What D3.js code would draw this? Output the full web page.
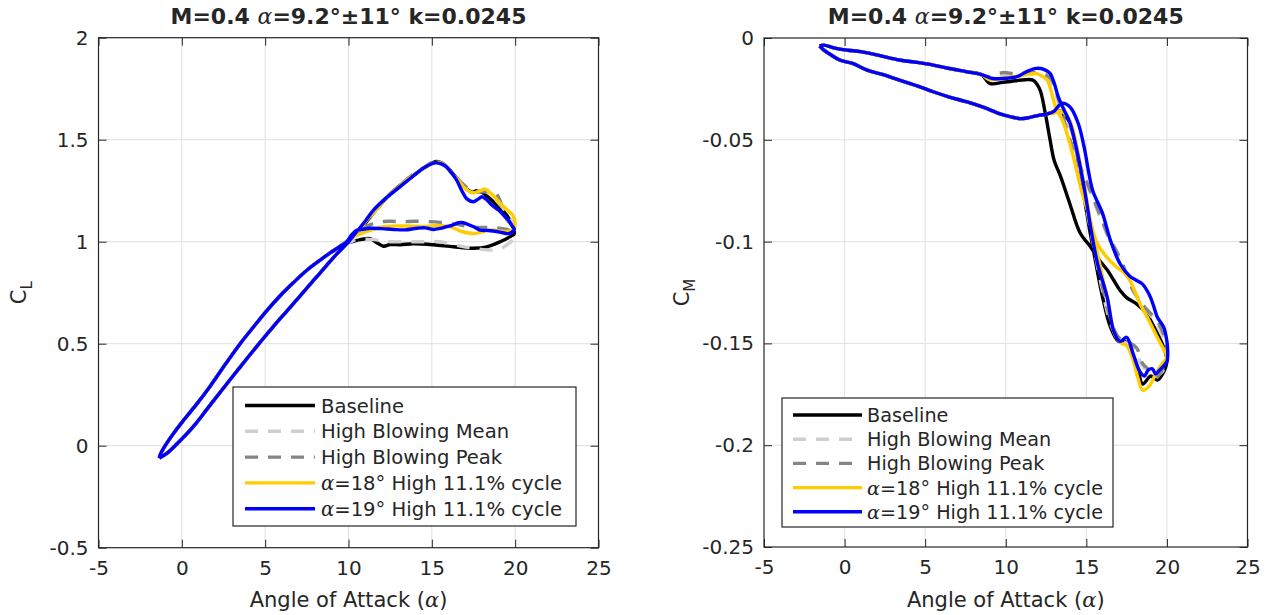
<!DOCTYPE html>
<html>
<head>
<meta charset="utf-8">
<script src="https://cdn.jsdelivr.net/npm/d3@7"></script>
<style>
  body { margin: 0; background: #fff; }
  svg { display: block; }
  text { font-family: "DejaVu Sans", sans-serif; fill: #262626; }
</style>
</head>
<body>
<svg id="fig" width="1266" height="615"></svg>
<script>
// ---- tick values ----
const alphaTicks = [-5, 0, 5, 10, 15, 20, 25];
const clTicks = [-0.5, 0, 0.5, 1, 1.5, 2];
const cmTicks = [-0.25, -0.2, -0.15, -0.1, -0.05, 0];

const titleParts = ["M=0.4 ", "α", "=9.2°±11° k=0.0245"];
const xLabelParts = ["Angle of Attack (", "α", ")"];

const seriesNames = ["Baseline", "High Blowing Mean", "High Blowing Peak",
                     "α=18° High 11.1% cycle", "α=19° High 11.1% cycle"];

// ---- lift coefficient, [alpha, CL] ----
// attached-flow part of the cycle shared by every case
const clAttachedUp = [[-1.35,-0.06],[-0.9,-0.038],[-0.3,0.008],[0.7,0.095],[1.5,0.178],[2.3,0.262],
  [3.2,0.355],[4.1,0.447],[4.8,0.517],[5.5,0.585],[6.3,0.66],[7.1,0.735],[7.9,0.81],[8.7,0.885],
  [9.3,0.94],[9.9,0.99]];
const clAttachedDown = [[9.9,1.0],[9.4,0.972],[8.9,0.945],[8.3,0.91],[7.5,0.86],[6.7,0.80],[5.9,0.735],
  [5.1,0.662],[4.3,0.582],[3.5,0.50],[2.6,0.398],[1.7,0.292],[0.9,0.205],[0.1,0.124],[-0.5,0.06],
  [-1.0,0.0],[-1.3,-0.045],[-1.35,-0.06]];

// stall part, upstroke to max alpha then back down to 10 deg
const clBaselineStall = [[10.2,1.02],[10.7,1.06],[11.2,1.11],[11.8,1.17],[12.4,1.225],[13.0,1.27],[13.5,1.30],
  [14.0,1.33],[14.5,1.36],[15.0,1.385],[15.3,1.393],[15.7,1.38],[16.1,1.35],[16.5,1.31],[17.0,1.265],
  [17.4,1.243],[17.7,1.25],[18.0,1.243],[18.5,1.21],[19.0,1.17],[19.5,1.13],[19.85,1.075],[19.95,1.04],
  [19.7,1.025],[19.1,1.0],[18.3,0.975],[17.5,0.968],[16.3,0.975],[15.1,0.985],[13.9,0.99],[13.1,0.985],
  [12.5,0.986],[12.1,0.978],[11.7,0.995],[11.3,1.015],[10.7,1.01],[10.2,1.0]];
const clMeanStall = [[10.2,1.02],[10.7,1.06],[11.2,1.11],[11.8,1.17],[12.4,1.225],[13.0,1.27],[14.0,1.335],
  [14.6,1.365],[15.1,1.388],[15.4,1.39],[15.8,1.37],[16.2,1.33],[16.7,1.29],[17.2,1.255],[17.6,1.245],
  [18.0,1.25],[18.5,1.235],[19.0,1.19],[19.5,1.14],[19.9,1.08],[19.95,1.02],[19.6,0.99],[19.0,0.962],
  [18.3,0.96],[17.5,0.968],[16.8,0.977],[15.5,1.0],[14.5,1.0],[13.5,1.0],[12.5,1.0],[11.5,1.01],
  [10.5,1.01],[10.1,1.0]];
const clPeakStall = [[10.2,1.02],[10.7,1.062],[11.2,1.112],[11.8,1.172],[12.4,1.228],[13.0,1.272],[14.0,1.338],
  [14.6,1.368],[15.1,1.392],[15.4,1.396],[15.8,1.376],[16.2,1.34],[16.7,1.295],[17.2,1.26],[17.6,1.245],
  [18.1,1.245],[18.7,1.25],[19.1,1.2],[19.4,1.12],[19.8,1.08],[19.95,1.05],[19.5,1.06],[18.5,1.07],
  [17.5,1.07],[16.5,1.085],[15.5,1.095],[14.1,1.10],[13.2,1.098],[12.4,1.10],[11.5,1.09],[10.8,1.06],
  [10.2,1.02]];
const clAlpha18Stall = [[10.2,1.025],[10.7,1.065],[11.2,1.115],[11.8,1.17],[12.4,1.225],[13.0,1.268],
  [14.0,1.332],[14.6,1.362],[15.1,1.385],[15.4,1.39],[15.8,1.372],[16.2,1.335],[16.6,1.30],[17.0,1.26],
  [17.5,1.24],[17.9,1.25],[18.2,1.258],[18.6,1.232],[19.2,1.18],[19.6,1.15],[19.85,1.13],[20.0,1.09],
  [19.9,1.06],[19.5,1.05],[18.5,1.057],[17.5,1.04],[16.8,1.05],[16.2,1.07],[15.5,1.08],[14.5,1.075],
  [13.5,1.077],[12.1,1.074],[11.1,1.05],[10.3,1.025]];
const clAlpha19Stall = [[10.2,1.02],[10.5,1.05],[11.0,1.10],[11.5,1.155],[12.2,1.21],[13.1,1.27],[13.7,1.31],
  [14.3,1.35],[14.8,1.375],[15.2,1.387],[15.6,1.38],[15.9,1.365],[16.2,1.335],[16.5,1.30],[16.8,1.25],
  [17.1,1.21],[17.5,1.196],[17.8,1.21],[18.0,1.22],[18.3,1.205],[18.6,1.18],[19.0,1.155],[19.3,1.13],
  [19.6,1.105],[19.8,1.08],[19.95,1.06],[19.6,1.04],[19.2,1.045],[18.9,1.05],[18.4,1.055],[17.9,1.057],
  [17.6,1.07],[17.3,1.08],[16.9,1.093],[16.6,1.093],[16.2,1.08],[15.9,1.074],[15.5,1.065],[15.1,1.06],
  [14.6,1.068],[14.1,1.066],[13.4,1.058],[12.7,1.06],[12.0,1.064],[11.3,1.066],[10.8,1.06],[10.5,1.057],
  [10.2,1.035]];

// ---- pitching moment coefficient, [alpha, CM] ----
const cmUpperBranch = [[-1.55,-0.004],[-1.3,-0.0035],[-0.6,-0.005],[0.2,-0.006],[1.0,-0.0067],[2.2,-0.0087],
  [3.4,-0.0108],[4.5,-0.012],[5.5,-0.0133],[6.5,-0.015],[7.6,-0.0166],[8.5,-0.018]];
const cmLowerBranch = [[12.5,-0.0375],[12.1,-0.0379],[11.5,-0.039],[10.9,-0.0396],[10.2,-0.0385],
  [9.6,-0.0371],[8.6,-0.034],[7.6,-0.0314],[6.5,-0.029],[5.5,-0.0264],[4.5,-0.0235],[3.4,-0.0207],
  [2.4,-0.018],[1.4,-0.0158],[0.5,-0.0125],[-0.3,-0.0108],[-0.9,-0.008],[-1.3,-0.0058],[-1.55,-0.004]];

const cmBaselineStall = [[9.0,-0.0223],[9.8,-0.0218],[10.6,-0.021],[11.2,-0.0205],[11.7,-0.0207],[12.1,-0.025],
  [12.43,-0.036],[12.75,-0.05],[13.0,-0.06],[13.4,-0.068],[14.0,-0.082],[14.6,-0.0955],[15.3,-0.103],
  [15.7,-0.108],[16.3,-0.114],[16.7,-0.119],[17.1,-0.124],[17.5,-0.1275],[18.1,-0.1305],[18.7,-0.135],
  [19.2,-0.142],[19.7,-0.150],[20.0,-0.158],[19.8,-0.164],[19.4,-0.168],[19.0,-0.166],[18.5,-0.170],
  [18.2,-0.163],[17.9,-0.156],[17.4,-0.149],[17.0,-0.149],[16.5,-0.142],[16.0,-0.127],[15.6,-0.111],
  [15.2,-0.094],[14.8,-0.075],[14.4,-0.056],[14.0,-0.042],[13.5,-0.037],[12.9,-0.0365]];
const cmMeanStall = [[9.0,-0.0195],[9.8,-0.018],[10.6,-0.018],[11.5,-0.0175],[12.3,-0.018],[12.8,-0.021],
  [13.2,-0.03],[13.7,-0.043],[14.3,-0.057],[14.9,-0.069],[15.5,-0.081],[16.1,-0.093],[16.6,-0.102],
  [17.1,-0.109],[17.6,-0.118],[18.1,-0.126],[18.7,-0.133],[19.4,-0.141],[19.85,-0.149],[20.0,-0.157],
  [19.7,-0.164],[19.2,-0.166],[18.8,-0.164],[18.4,-0.16],[18.0,-0.153],[17.5,-0.15],[17.0,-0.148],
  [16.5,-0.14],[16.0,-0.124],[15.5,-0.104],[15.0,-0.083],[14.5,-0.061],[14.0,-0.044],[13.5,-0.037],
  [12.9,-0.0365]];
const cmPeakStall = [[9.0,-0.019],[9.8,-0.017],[10.6,-0.0175],[11.5,-0.017],[12.3,-0.0175],[12.8,-0.02],
  [13.2,-0.028],[13.6,-0.04],[14.2,-0.055],[14.8,-0.0665],[15.4,-0.078],[16.0,-0.09],[16.5,-0.0995],
  [16.9,-0.105],[17.5,-0.116],[17.9,-0.124],[18.6,-0.132],[19.4,-0.139],[19.85,-0.147],[20.0,-0.156],
  [19.7,-0.163],[19.3,-0.167],[18.9,-0.163],[18.5,-0.16],[18.1,-0.152],[17.5,-0.149],[17.0,-0.147],
  [16.5,-0.138],[16.0,-0.122],[15.5,-0.102],[15.0,-0.082],[14.5,-0.06],[14.0,-0.043],[13.5,-0.036],
  [12.9,-0.036]];
const cmAlpha18Stall = [[9.0,-0.0205],[9.8,-0.0195],[10.6,-0.019],[11.3,-0.018],[11.9,-0.0175],[12.3,-0.019],
  [12.6,-0.021],[12.8,-0.0256],[13.1,-0.034],[13.6,-0.042],[14.2,-0.0585],[14.7,-0.075],[15.2,-0.088],
  [15.6,-0.0995],[16.2,-0.107],[16.8,-0.112],[17.3,-0.115],[17.7,-0.119],[18.3,-0.13],[18.9,-0.139],
  [19.4,-0.147],[19.8,-0.153],[20.0,-0.157],[19.7,-0.16],[19.3,-0.165],[18.9,-0.171],[18.5,-0.173],
  [18.2,-0.167],[17.9,-0.158],[17.5,-0.151],[17.2,-0.15],[16.8,-0.146],[16.3,-0.128],[15.8,-0.11],
  [15.3,-0.092],[14.9,-0.074],[14.5,-0.057],[14.0,-0.041],[13.5,-0.036],[12.9,-0.037]];
const cmAlpha19Stall = [[9.2,-0.0199],[10.0,-0.0198],[10.7,-0.019],[11.3,-0.0165],[11.9,-0.0149],[12.4,-0.0155],
  [12.75,-0.0174],[13.0,-0.022],[13.26,-0.0289],[13.6,-0.035],[14.0,-0.042],[14.5,-0.0585],[14.9,-0.075],
  [15.3,-0.0946],[15.7,-0.111],[16.3,-0.1275],[16.7,-0.144],[17.1,-0.149],[17.5,-0.147],[17.9,-0.155],
  [18.3,-0.1635],[18.6,-0.166],[18.85,-0.163],[19.1,-0.1625],[19.3,-0.165],[19.5,-0.1635],[19.8,-0.161],
  [20.0,-0.159],[20.05,-0.154],[20.0,-0.149],[19.8,-0.142],[19.4,-0.137],[19.15,-0.131],[18.9,-0.126],
  [18.5,-0.121],[18.1,-0.119],[17.7,-0.117],[17.1,-0.111],[16.5,-0.0995],[16.0,-0.086],[15.4,-0.075],
  [15.1,-0.064],[14.9,-0.055],[14.5,-0.042],[14.0,-0.034],[13.5,-0.032],[12.95,-0.0363]];

// ---- line styles per series ----
const seriesStyles = [
  { color: "#000000", dash: null },
  { color: "#cfcfcf", dash: "13,10" },
  { color: "#858585", dash: "13,10" },
  { color: "#ffcc00", dash: null },
  { color: "#0000ff", dash: null }
];

const clLoops = [clBaselineStall, clMeanStall, clPeakStall, clAlpha18Stall, clAlpha19Stall]
  .map(s => clAttachedUp.concat(s, clAttachedDown));
const cmLoops = [cmBaselineStall, cmMeanStall, cmPeakStall, cmAlpha18Stall, cmAlpha19Stall]
  .map(s => cmUpperBranch.concat(s, cmLowerBranch));

const svg = d3.select("#fig");
const INK = "#262626";

function richText(sel, parts, boldMain) {
  parts.forEach(p => {
    const t = sel.append("tspan").text(p);
    if (p === "α") {
      t.style("font-family", "'DejaVu Serif', serif").style("font-style", "italic")
       .style("font-weight", "normal");
    } else if (boldMain) {
      t.style("font-weight", "bold");
    }
  });
}

function drawPanel(cfg) {
  const x = d3.scaleLinear().domain([-5, 25]).range([cfg.left, cfg.right]);
  const y = d3.scaleLinear().domain(cfg.yDomain).range([cfg.bottom, cfg.top]);
  const g = svg.append("g");

  // grid
  g.append("g").selectAll("line").data(alphaTicks.slice(1, -1)).join("line")
    .attr("x1", d => x(d)).attr("x2", d => x(d)).attr("y1", cfg.top).attr("y2", cfg.bottom)
    .attr("stroke", "#e0e0e0").attr("stroke-width", 1);
  g.append("g").selectAll("line").data(cfg.yTicks.slice(1, -1)).join("line")
    .attr("y1", d => y(d)).attr("y2", d => y(d)).attr("x1", cfg.left).attr("x2", cfg.right)
    .attr("stroke", "#e0e0e0").attr("stroke-width", 1);

  // curves
  const clip = "clip" + cfg.id;
  svg.append("clipPath").attr("id", clip).append("rect")
    .attr("x", cfg.left).attr("y", cfg.top)
    .attr("width", cfg.right - cfg.left).attr("height", cfg.bottom - cfg.top);
  const line = d3.line().x(d => x(d[0])).y(d => y(d[1])).curve(d3.curveCatmullRom.alpha(0.5));
  g.append("g").attr("clip-path", `url(#${clip})`)
    .selectAll("path").data(cfg.loops).join("path")
    .attr("d", line).attr("fill", "none")
    .attr("stroke", (d, i) => seriesStyles[i].color)
    .attr("stroke-dasharray", (d, i) => seriesStyles[i].dash)
    .attr("stroke-width", 3.4).attr("stroke-linejoin", "round").attr("stroke-linecap", "butt");

  // axes with inward ticks
  const fmt = d => String(d);
  const ax = (gen, tx, ty) => {
    const a = g.append("g").attr("transform", `translate(${tx},${ty})`).call(gen);
    a.select(".domain").remove();
    a.selectAll(".tick line").attr("stroke", INK);
    a.selectAll("text").style("font-size", "20px").attr("fill", INK)
      .style("font-family", "'DejaVu Sans', sans-serif");
    return a;
  };
  ax(d3.axisBottom(x).tickValues(alphaTicks).tickFormat(fmt).tickSize(-8).tickPadding(13), 0, cfg.bottom);
  ax(d3.axisTop(x).tickValues(alphaTicks).tickFormat("").tickSize(-8), 0, cfg.top);
  ax(d3.axisLeft(y).tickValues(cfg.yTicks).tickFormat(fmt).tickSize(-8).tickPadding(10), cfg.left, 0);
  ax(d3.axisRight(y).tickValues(cfg.yTicks).tickFormat("").tickSize(-8), cfg.right, 0);

  g.append("rect").attr("x", cfg.left).attr("y", cfg.top)
    .attr("width", cfg.right - cfg.left).attr("height", cfg.bottom - cfg.top)
    .attr("fill", "none").attr("stroke", INK).attr("stroke-width", 1.2);

  // title and labels
  const cx = (cfg.left + cfg.right) / 2;
  richText(g.append("text").attr("x", cx).attr("y", 24).attr("text-anchor", "middle")
    .style("font-size", "22px"), titleParts, true);
  richText(g.append("text").attr("x", cx).attr("y", 607).attr("text-anchor", "middle")
    .style("font-size", "21px"), xLabelParts, false);
  const yl = g.append("text")
    .attr("transform", `translate(${cfg.yLabelX},${(cfg.top + cfg.bottom) / 2}) rotate(-90)`)
    .attr("text-anchor", "middle").style("font-size", "21px");
  yl.append("tspan").text("C");
  yl.append("tspan").text(cfg.yLabelSub).style("font-size", "15px").attr("dy", 6);

  // legend
  const L = cfg.legend;
  const lg = g.append("g");
  lg.append("rect").attr("x", L.x).attr("y", L.y).attr("width", L.w).attr("height", L.h)
    .attr("fill", "#fff").attr("stroke", INK).attr("stroke-width", 1.2);
  seriesNames.forEach((name, i) => {
    const ry = L.row0 + i * L.step;
    lg.append("line").attr("x1", L.lx1).attr("x2", L.lx2).attr("y1", ry).attr("y2", ry)
      .attr("stroke", seriesStyles[i].color).attr("stroke-width", 3.4)
      .attr("stroke-dasharray", seriesStyles[i].dash);
    const t = lg.append("text").attr("x", L.tx).attr("y", ry).attr("dy", "0.36em")
      .style("font-size", L.font + "px");
    if (name.startsWith("α")) richText(t, ["α", name.slice(1)], false);
    else t.text(name);
  });
}

drawPanel({
  id: "cl", left: 98.5, right: 598.5, top: 37.7, bottom: 547.7,
  yDomain: [-0.5, 2], yTicks: clTicks, loops: clLoops, yLabelX: 26, yLabelSub: "L",
  legend: { x: 233, y: 387, w: 343, h: 139, row0: 405.5, step: 25.8, lx1: 245, lx2: 315, tx: 321, font: 19.6 }
});
drawPanel({
  id: "cm", left: 764, right: 1247.5, top: 38, bottom: 547,
  yDomain: [-0.25, 0], yTicks: cmTicks, loops: cmLoops, yLabelX: 689, yLabelSub: "M",
  legend: { x: 782, y: 398, w: 331, h: 129, row0: 415, step: 24.2, lx1: 793, lx2: 862, tx: 867, font: 19.2 }
});
</script>
</body>
</html>
